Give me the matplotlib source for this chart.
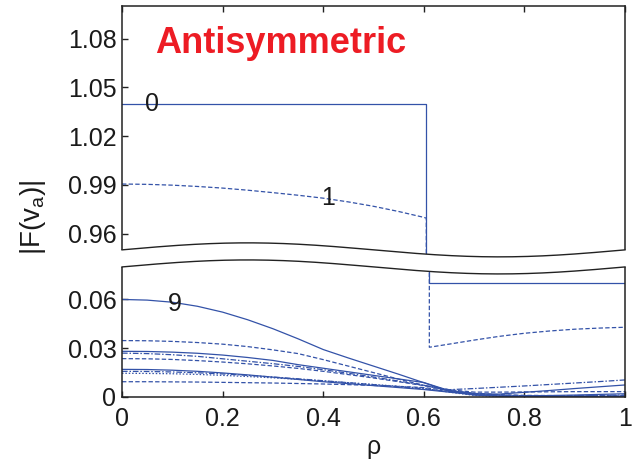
import numpy as np
import matplotlib
matplotlib.use("Agg")
import matplotlib.pyplot as plt
import matplotlib.transforms as mtransforms
from matplotlib.patches import Polygon

plt.rcParams["font.family"] = ["Liberation Sans", "DejaVu Sans"]
plt.rcParams["mathtext.fontset"] = "custom"
plt.rcParams["mathtext.rm"] = "Liberation Sans"
plt.rcParams["mathtext.it"] = "Liberation Sans:italic"

# ---------------------------------------------------------------- data
rho = [0.00, 0.05, 0.10, 0.15, 0.20, 0.25, 0.30, 0.35, 0.40, 0.45, 0.50,
       0.55, 0.60, 0.65, 0.70, 0.75, 0.80, 0.85, 0.90, 0.95, 1.00]

# broken y axis: lower panel 0..LOW_TOP, upper panel UP_BOT..1.10
LOW_TOP = 0.08
UP_BOT = 0.95
BREAK_MID = 0.5 * (LOW_TOP + UP_BOT)

# mode 0 and mode 1 jump across the break at the interface
rho_f0 = [0.0, 0.605, 0.605, 0.611, 0.611, 1.0]
f0 = [1.040, 1.040, BREAK_MID, BREAK_MID, 0.070, 0.070]

rho_f1 = [0.00, 0.05, 0.10, 0.15, 0.20, 0.25, 0.30, 0.35, 0.40, 0.45, 0.50,
          0.55, 0.60, 0.605, 0.605, 0.611, 0.611,
          0.65, 0.70, 0.75, 0.80, 0.85, 0.90, 0.95, 1.00]
f1 = [0.9905, 0.9903, 0.9898, 0.9890, 0.9880, 0.9867, 0.9852, 0.9836,
      0.9818, 0.9795, 0.9768, 0.9736, 0.9700, 0.9695,
      BREAK_MID, BREAK_MID,
      0.0306, 0.0325, 0.0350, 0.0373, 0.0392, 0.0406, 0.0417, 0.0424, 0.0429]

f9 = [0.0600, 0.0596, 0.0583, 0.0558, 0.0522, 0.0475, 0.0420, 0.0358, 0.0292,
      0.0240, 0.0190, 0.0140, 0.0088, 0.0035, 0.0012, 0.0005, 0.0006, 0.0009,
      0.0012, 0.0016, 0.0020]
fa = [0.0347, 0.0346, 0.0342, 0.0335, 0.0325, 0.0310, 0.0290, 0.0267, 0.0230,
      0.0190, 0.0150, 0.0110, 0.0072, 0.0040, 0.0022, 0.0014, 0.0010, 0.0009,
      0.0008, 0.0008, 0.0008]
fb = [0.0281, 0.0280, 0.0276, 0.0269, 0.0258, 0.0243, 0.0225, 0.0199, 0.0177,
      0.0155, 0.0133, 0.0111, 0.0089, 0.0040, 0.0020, 0.0018, 0.0029, 0.0040,
      0.0052, 0.0063, 0.0074]
fc = [0.0270, 0.0267, 0.0260, 0.0250, 0.0235, 0.0220, 0.0205, 0.0188, 0.0168,
      0.0146, 0.0123, 0.0098, 0.0072, 0.0045, 0.0052, 0.0060, 0.0068, 0.0077,
      0.0086, 0.0095, 0.0105]
fd = [0.0236, 0.0235, 0.0231, 0.0224, 0.0215, 0.0204, 0.0191, 0.0176, 0.0158,
      0.0138, 0.0117, 0.0094, 0.0070, 0.0045, 0.0030, 0.0030, 0.0031, 0.0032,
      0.0033, 0.0033, 0.0033]
fe = [0.0170, 0.0169, 0.0165, 0.0158, 0.0148, 0.0136, 0.0122, 0.0108, 0.0094,
      0.0082, 0.0070, 0.0058, 0.0046, 0.0030, 0.0015, 0.0006, 0.0002, 0.0002,
      0.0002, 0.0002, 0.0002]
ff = [0.0158, 0.0157, 0.0154, 0.0149, 0.0142, 0.0133, 0.0123, 0.0112, 0.0100,
      0.0088, 0.0076, 0.0063, 0.0050, 0.0035, 0.0020, 0.0012, 0.0008, 0.0008,
      0.0009, 0.0010, 0.0012]
fg = [0.0146, 0.0145, 0.0143, 0.0139, 0.0133, 0.0126, 0.0118, 0.0109, 0.0099,
      0.0088, 0.0077, 0.0066, 0.0054, 0.0030, 0.0010, 0.0004, 0.0002, 0.0002,
      0.0002, 0.0002, 0.0002]
fh = [0.0094, 0.0094, 0.0093, 0.0092, 0.0090, 0.0088, 0.0086, 0.0083, 0.0080,
      0.0076, 0.0071, 0.0065, 0.0058, 0.0040, 0.0022, 0.0012, 0.0008, 0.0006,
      0.0005, 0.0005, 0.0005]

yticks = [0.0, 0.03, 0.06, 0.96, 0.99, 1.02, 1.05, 1.08]
yticklabels = ["0", "0.03", "0.06", "0.96", "0.99", "1.02", "1.05", "1.08"]
xticks = [0.0, 0.2, 0.4, 0.6, 0.8, 1.0]
xticklabels = ["0", "0.2", "0.4", "0.6", "0.8", "1"]

# ---------------------------------------------------------------- scale
GAP = 0.0105  # height of the break band in scaled units


def fwd(y):
    y = np.asarray(y, dtype=float)
    return np.where(y <= LOW_TOP, y,
                    np.where(y >= UP_BOT, y - UP_BOT + LOW_TOP + GAP,
                             LOW_TOP + (y - LOW_TOP) * GAP / (UP_BOT - LOW_TOP)))


def inv(s):
    s = np.asarray(s, dtype=float)
    return np.where(s <= LOW_TOP, s,
                    np.where(s >= LOW_TOP + GAP, s - LOW_TOP - GAP + UP_BOT,
                             LOW_TOP + (s - LOW_TOP) * (UP_BOT - LOW_TOP) / GAP))


W, H = 639, 463
fig = plt.figure(figsize=(W / 100, H / 100), dpi=100)
ax = fig.add_axes([122 / W, 1 - 397 / H, (625 - 122) / W, (397 - 6) / H])
ax.set_yscale("function", functions=(fwd, inv))

blue = "#3352a8"
lw = 0.9
solid = "-"
dashed = (0, (3.5, 1.8))
dotted = (0, (1.2, 1.5))
dashdot = (0, (4.5, 1.5, 1.2, 1.5))

ax.plot(rho_f0, f0, color=blue, lw=lw, ls=solid)
ax.plot(rho_f1, f1, color=blue, lw=lw, ls=dashed)
ax.plot(rho, f9, color=blue, lw=lw, ls=solid)
ax.plot(rho, fa, color=blue, lw=lw, ls=dashed)
ax.plot(rho, fb, color=blue, lw=lw, ls=solid)
ax.plot(rho, fc, color=blue, lw=lw, ls=dashdot)
ax.plot(rho, fd, color=blue, lw=lw, ls=dashed)
ax.plot(rho, fe, color=blue, lw=lw, ls=solid)
ax.plot(rho, ff, color=blue, lw=lw, ls=dashdot)
ax.plot(rho, fg, color=blue, lw=lw, ls=dotted)
ax.plot(rho, fh, color=blue, lw=lw, ls=dashed)

ax.set_xlim(0, 1)
ax.set_ylim(0, 1.10)

# wavy break band (x in data, y in axes fraction)
total = float(fwd(1.10))
frac_low = float(fwd(LOW_TOP)) / total
frac_up = float(fwd(UP_BOT)) / total
amp = 7 / (397 - 6)
trans = mtransforms.blended_transform_factory(ax.transData, ax.transAxes)
xb = np.linspace(-0.01, 1.01, 300)
wave = amp * np.sin(2 * np.pi * xb)
band = np.column_stack([np.r_[xb, xb[::-1]],
                        np.r_[frac_up + wave, (frac_low + wave)[::-1]]])
ax.add_patch(Polygon(band, closed=True, facecolor="white", edgecolor="none",
                     transform=trans, clip_on=False, zorder=5))
xl = np.linspace(0, 1, 300)
wl = amp * np.sin(2 * np.pi * xl)
ax.plot(xl, frac_up + wl, color="#222222", lw=1.0, transform=trans,
        clip_on=False, zorder=6)
ax.plot(xl, frac_low + wl, color="#222222", lw=1.0, transform=trans,
        clip_on=False, zorder=6)

ax.set_yticks(yticks)
ax.set_yticklabels(yticklabels)
ax.set_xticks(xticks)
ax.set_xticklabels(xticklabels)
ax.yaxis.set_minor_locator(matplotlib.ticker.NullLocator())
ax.tick_params(axis="both", direction="in", length=4, width=1,
               labelsize=18, colors="#222222", labelcolor="#1a1a1a")
ax.tick_params(axis="x", top=True, pad=7)
ax.tick_params(axis="y", right=False, pad=4)
for sp in ax.spines.values():
    sp.set_linewidth(1.1)
    sp.set_color("#222222")

# curve labels
ax.text(0.0596, 1.040, "0", ha="center", va="center", fontsize=18, color="#1a1a1a")
ax.text(0.4095, 0.982, "1", ha="center", va="center", fontsize=18, color="#1a1a1a")
ax.text(0.1054, 0.0573, "9", ha="center", va="center", fontsize=18, color="#1a1a1a")

ax.text(0.0656, 0.88, "Antisymmetric", transform=ax.transAxes, color="#ED1C24",
        fontsize=26, fontweight="bold", ha="left", va="baseline")

fig.text(33 / W, 1 - 217 / H, r"|F(v$_\mathrm{a}$)|", rotation=90,
         ha="center", va="center", fontsize=20, color="#1a1a1a")
fig.text(373.5 / W, 1 - 447 / H, "ρ", ha="center", va="center",
         fontsize=18, color="#1a1a1a")

fig.savefig("out.png", dpi=100)
